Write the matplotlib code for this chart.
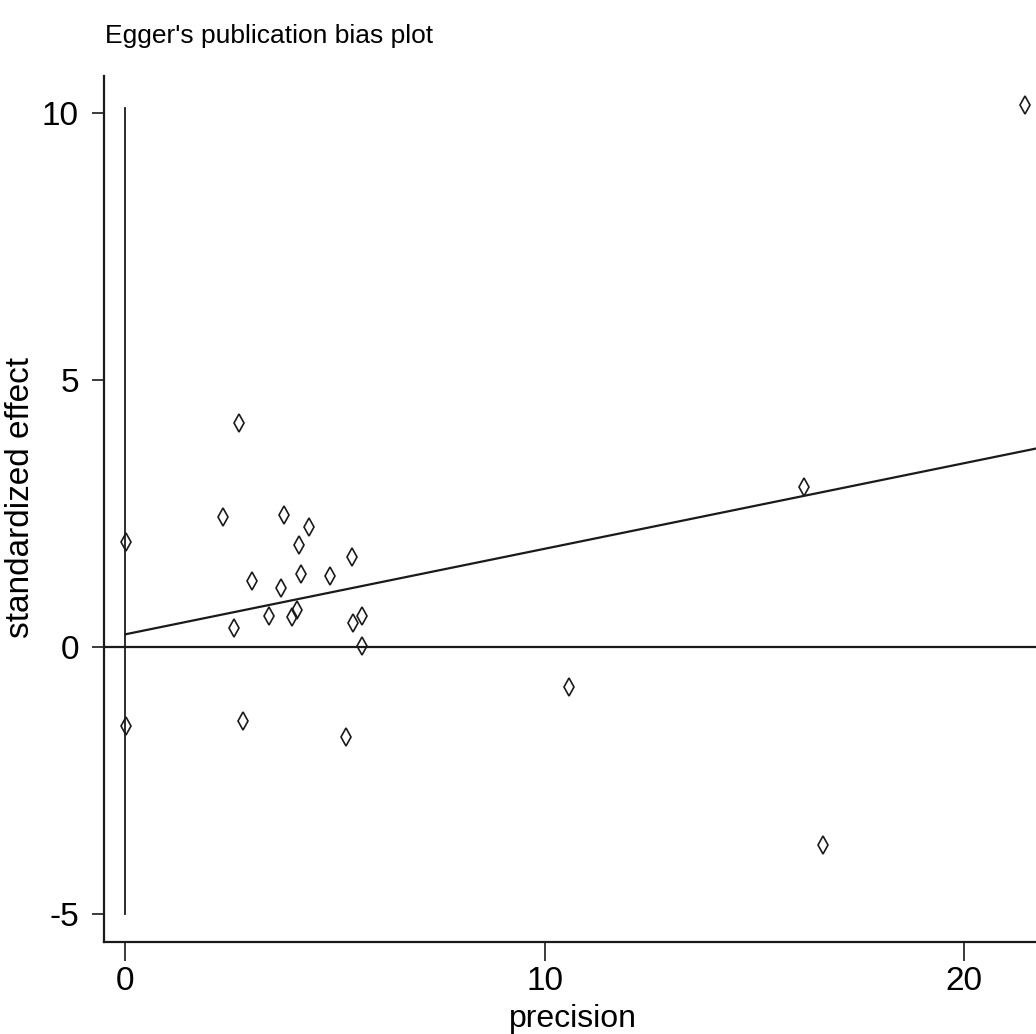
import matplotlib

matplotlib.use("Agg")

import matplotlib.pyplot as plt
from matplotlib.ticker import FuncFormatter


# ==================================================
# Data
# ==================================================
precision = [2.70, 2.33, 3.78, 4.38, 4.13, 5.41, 4.19, 4.88, 3.03, 3.71,
             0.01, 3.42, 4.09, 3.97, 5.64, 5.43, 2.58, 5.64, 0.01, 2.80,
             5.26, 10.58, 16.20, 16.65, 21.47]
std_effect = [4.20, 2.44, 2.48, 2.25, 1.92, 1.69, 1.37, 1.34, 1.24, 1.10,
              1.97, 0.59, 0.69, 0.56, 0.59, 0.46, 0.36, 0.02, -1.48, -1.39,
              -1.69, -0.75, 3.00, -3.71, 10.15]

# Egger regression line (intercept = bias)
egger_intercept = 0.24
egger_slope = 0.160

# vertical reference line span at precision 0
vline_span = [-5.0, 10.1]

x_ticks = [0, 10, 20]
y_ticks = [-5, 0, 5, 10]

NARROW = ["Liberation Sans Narrow", "Liberation Sans", "DejaVu Sans"]
REGULAR = ["Liberation Sans", "DejaVu Sans"]

W, H = 1036, 1034
fig = plt.figure(figsize=(W / 100, H / 100), dpi=100)
ax = fig.add_axes([104 / W, 1 - 942 / H, (W - 104) / W, (942 - 76) / H])

ax.set_xlim(-0.513, 21.73)
ax.set_ylim(-5.52, 10.69)

line_col = "#1a1a1a"

# reference lines
ax.axhline(0, color=line_col, lw=1.6)
ax.plot([0, 0], vline_span, color=line_col, lw=1.3)

# Egger fit
x0, x1 = 0, ax.get_xlim()[1]
ax.plot([x0, x1],
        [egger_intercept + egger_slope * x0, egger_intercept + egger_slope * x1],
        color=line_col, lw=1.6)

# studies
ax.plot(precision, std_effect, linestyle="none", marker="d", markersize=9,
        markerfacecolor="none", markeredgecolor=line_col, markeredgewidth=1.2)

# spines / ticks
for side in ["top", "right"]:
    ax.spines[side].set_visible(False)
for side in ["left", "bottom"]:
    ax.spines[side].set_color(line_col)
    ax.spines[side].set_linewidth(1.6)

ax.set_xticks(x_ticks)
ax.set_yticks(y_ticks)
# plain hyphen for negatives, as in the reference
ax.yaxis.set_major_formatter(FuncFormatter(lambda v, p: f"{v:g}"))
ax.tick_params(axis="x", length=14, width=1.2, color=line_col, pad=3)
ax.tick_params(axis="y", length=9, width=1.2, color=line_col, pad=9)
for lab in ax.get_xticklabels() + ax.get_yticklabels():
    lab.set_family(NARROW)
    lab.set_fontsize(24)

fig.text(105 / W, 1 - 43 / H, "Egger's publication bias plot",
         family=NARROW, fontsize=19, ha="left", va="baseline")
fig.text(573 / W, 1 - 1027 / H, "precision",
         family=NARROW, fontsize=23, ha="center", va="baseline")
fig.text(21 / W, 1 - 497 / H, "standardized effect",
         family=REGULAR, fontsize=24, rotation=90, ha="center", va="center")

fig.savefig("out.png", dpi=100)
plt.close(fig)
